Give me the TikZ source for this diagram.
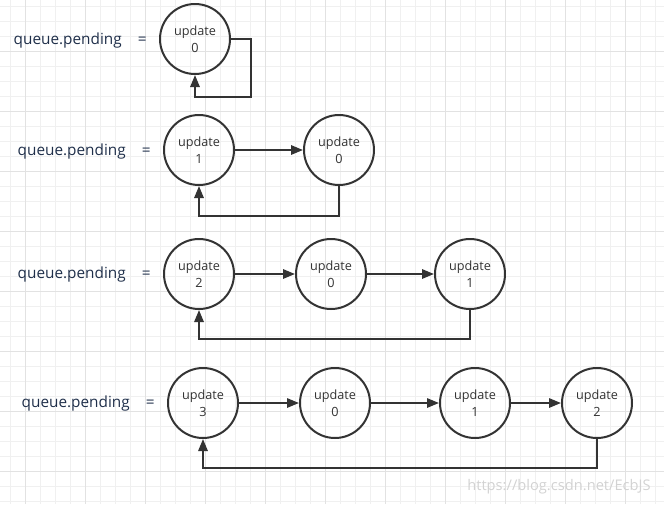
\documentclass[tikz,border=0pt]{standalone}
\usepackage{fontspec}
\setmainfont{Open Sans}
\usetikzlibrary{arrows.meta}
\definecolor{ink}{HTML}{333333}
\definecolor{lblink}{HTML}{1F2F4A}
\definecolor{minorgrid}{HTML}{F0F0F0}
\definecolor{majorgrid}{HTML}{E2E2E2}
\begin{document}
\begin{tikzpicture}[x=0.75pt,y=-0.75pt,
    upd/.style={circle,draw=ink,line width=1.5pt,minimum size=52.5pt,inner sep=0pt,
      align=center,text=ink,font=\fontsize{9.5}{12.5}\selectfont},
    lbl/.style={anchor=west,text=lblink,font=\fontsize{11.5}{13}\selectfont},
    arr/.style={draw=ink,line width=1.5pt,-{Triangle[length=9pt,width=7pt]}}]
    \useasboundingbox (0,0) rectangle (664,504);
    % grid paper
    \foreach \x in {10,25,...,655} \draw[minorgrid,line width=0.75pt] (\x,0) -- (\x,504);
    \foreach \y in {6,21,...,501} \draw[minorgrid,line width=0.75pt] (0,\y) -- (664,\y);
    \foreach \x in {25,85,...,625} \draw[majorgrid,line width=0.75pt] (\x,0) -- (\x,504);
    \foreach \y in {51,111,...,471} \draw[majorgrid,line width=0.75pt] (0,\y) -- (664,\y);

    \node[lbl] (q1) at (9,41) {queue.pending\hspace{1.05em}=};
    \node[upd] (r1u0) at (195,39) {update\\0};
    \draw[arr] (r1u0.east) -- ++(20,0) -- ++(0,58) -| (r1u0.south);

    \node[lbl] (q2) at (13,152) {queue.pending\hspace{1.05em}=};
    \node[upd] (r2u1) at (199,150) {update\\1};
    \node[upd] (r2u0) at (339,150) {update\\0};
    \draw[arr] (r2u1) -- (r2u0);
    \draw[arr] (r2u0.south) -- ++(0,30) -| (r2u1.south);

    \node[lbl] (q3) at (13,275) {queue.pending\hspace{1.05em}=};
    \node[upd] (r3u2) at (199,274) {update\\2};
    \node[upd] (r3u0) at (331,274) {update\\0};
    \node[upd] (r3u1) at (470,274) {update\\1};
    \draw[arr] (r3u2) -- (r3u0);
    \draw[arr] (r3u0) -- (r3u1);
    \draw[arr] (r3u1.south) -- ++(0,29) -| (r3u2.south);

    \node[lbl] (q4) at (17,404) {queue.pending\hspace{1.05em}=};
    \node[upd] (r4u3) at (203,403) {update\\3};
    \node[upd] (r4u0) at (335,403) {update\\0};
    \node[upd] (r4u1) at (475,403) {update\\1};
    \node[upd] (r4u2) at (597,403) {update\\2};
    \draw[arr] (r4u3) -- (r4u0);
    \draw[arr] (r4u0) -- (r4u1);
    \draw[arr] (r4u1) -- (r4u2);
    \draw[arr] (r4u2.south) -- ++(0,29) -| (r4u3.south);

    \node[text=gray!35,font=\fontsize{11}{13}\selectfont] (wm) at (559,487) {https://blog.csdn.net/EcbJS};
\end{tikzpicture}
\end{document}
